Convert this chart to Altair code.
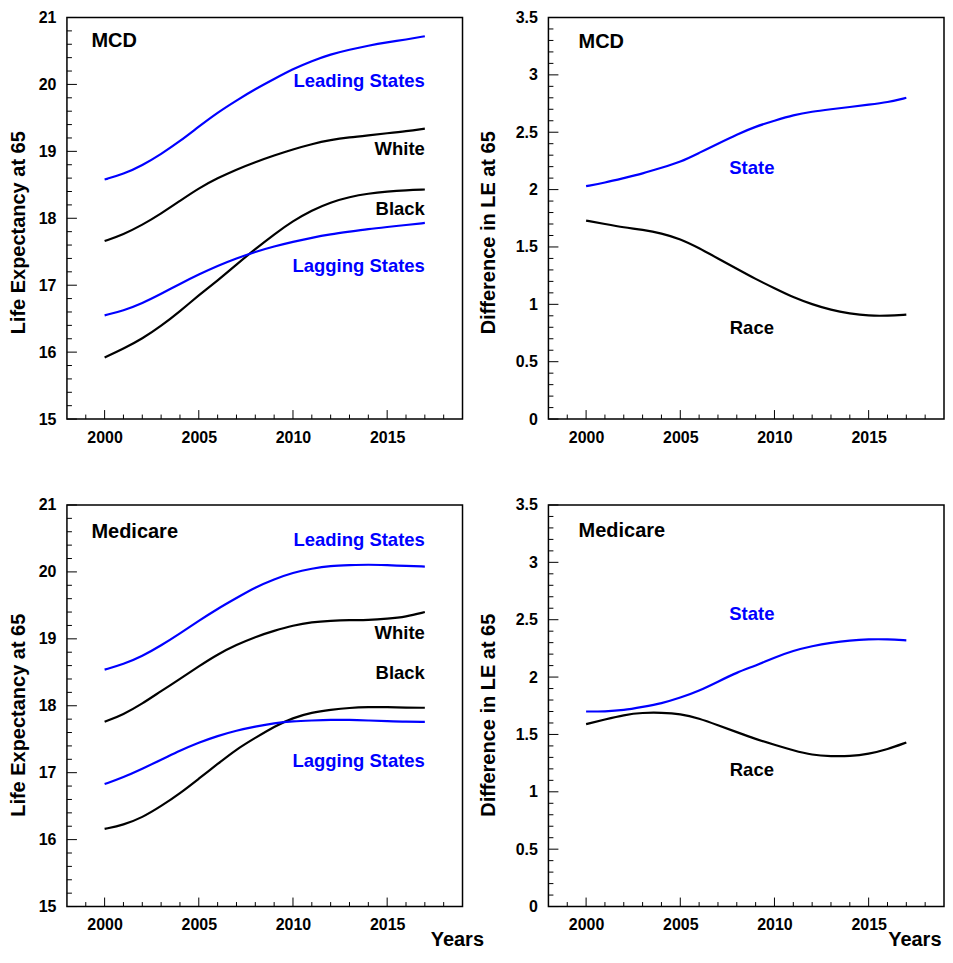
import altair as alt
import pandas as pd

years = list(range(2000, 2018))

# MCD life expectancy at 65
mcd_leading = [18.58, 18.66, 18.79, 18.96, 19.15, 19.37, 19.58, 19.76, 19.93, 20.08, 20.23, 20.35, 20.45, 20.52, 20.58, 20.63, 20.67, 20.72]
mcd_white = [17.66, 17.76, 17.90, 18.07, 18.26, 18.45, 18.60, 18.73, 18.84, 18.94, 19.03, 19.11, 19.17, 19.21, 19.24, 19.27, 19.30, 19.34]
mcd_black = [15.92, 16.05, 16.20, 16.39, 16.61, 16.85, 17.07, 17.31, 17.54, 17.76, 17.96, 18.12, 18.24, 18.32, 18.37, 18.40, 18.42, 18.43]
mcd_lagging = [16.55, 16.62, 16.73, 16.87, 17.02, 17.16, 17.29, 17.40, 17.50, 17.58, 17.65, 17.71, 17.76, 17.80, 17.84, 17.87, 17.90, 17.93]

# Medicare life expectancy at 65
med_leading = [18.54, 18.62, 18.74, 18.90, 19.08, 19.27, 19.45, 19.61, 19.77, 19.89, 19.99, 20.05, 20.09, 20.10, 20.11, 20.10, 20.09, 20.08]
med_white = [17.76, 17.87, 18.03, 18.22, 18.40, 18.59, 18.77, 18.91, 19.03, 19.12, 19.20, 19.25, 19.27, 19.28, 19.28, 19.30, 19.33, 19.40]
med_black = [16.16, 16.22, 16.33, 16.50, 16.69, 16.91, 17.13, 17.35, 17.52, 17.69, 17.82, 17.90, 17.94, 17.97, 17.98, 17.98, 17.97, 17.97]
med_lagging = [16.83, 16.93, 17.06, 17.19, 17.33, 17.45, 17.55, 17.63, 17.69, 17.74, 17.77, 17.78, 17.79, 17.79, 17.78, 17.77, 17.76, 17.76]

# Differences in LE at 65
mcd_state = [2.03, 2.06, 2.10, 2.14, 2.19, 2.24, 2.32, 2.40, 2.48, 2.55, 2.60, 2.65, 2.68, 2.70, 2.72, 2.74, 2.76, 2.80]
mcd_race = [1.73, 1.70, 1.67, 1.65, 1.62, 1.57, 1.49, 1.40, 1.31, 1.22, 1.14, 1.06, 1.00, 0.95, 0.92, 0.90, 0.90, 0.91]
med_state = [1.70, 1.70, 1.71, 1.74, 1.77, 1.82, 1.88, 1.96, 2.04, 2.10, 2.17, 2.23, 2.27, 2.30, 2.32, 2.33, 2.33, 2.32]
med_race = [1.59, 1.63, 1.67, 1.69, 1.69, 1.68, 1.64, 1.58, 1.52, 1.46, 1.41, 1.36, 1.32, 1.31, 1.31, 1.33, 1.37, 1.43]

# In-plot labels
le_label_text = ["Leading States", "White", "Black", "Lagging States"]
le_label_color = ["blue", "black", "black", "blue"]
le_label_x = [2017, 2017, 2017, 2017]
mcd_le_label_y = [20.05, 19.03, 18.14, 17.29]
med_le_label_y = [20.48, 19.09, 18.49, 17.18]

diff_label_text = ["State", "Race"]
diff_label_color = ["blue", "black"]
diff_label_x = [2008.8, 2008.8]
mcd_diff_label_y = [2.19, 0.79]
med_diff_label_y = [2.55, 1.19]

# Axis ticks
x_major = [2000, 2005, 2010, 2015]
x_minor = [1999, 2001, 2002, 2003, 2004, 2006, 2007, 2008, 2009, 2011, 2012, 2013, 2014, 2016, 2017, 2018]
le_major = [15, 16, 17, 18, 19, 20, 21]
le_minor = [round(15 + 0.2 * i, 1) for i in range(31) if i % 5 != 0]
diff_major = [0, 0.5, 1, 1.5, 2, 2.5, 3, 3.5]
diff_minor = [round(0.1 * i, 1) for i in range(36) if i % 5 != 0]

BLUE = "#0000ff"
FONT = "Liberation Sans"
W, H = 396, 402
XDOM = [1998, 2019]


def colr(c):
    return BLUE if c == "blue" else "black"


def panel(series, lab_text, lab_color, lab_x, lab_y, lab_align, ydom, ymaj, ymin, yfmt,
          ytitle, ytitle_x, ytitle_y, tag, tag_x, tag_y, years_x=None):
    xs = alt.Scale(domain=XDOM, nice=False, zero=False)
    ys = alt.Scale(domain=ydom, nice=False, zero=False)

    rows = []
    for name, c, vals in series:
        for yr, v in zip(years, vals):
            rows.append({"year": yr, "value": v, "series": name, "color": colr(c)})
    df = pd.DataFrame(rows)

    xaxis_kw = dict(values=x_major, format="d", ticks=False, domain=False, grid=False,
                    labelFont=FONT, labelFontWeight="bold", labelFontSize=16,
                    labelColor="black", labelPadding=10, labelFlush=False)
    if years_x is None:
        xaxis = alt.Axis(title=None, **xaxis_kw)
    else:
        xaxis = alt.Axis(title="Years", titleFont=FONT, titleFontWeight="bold",
                         titleFontSize=20, titleColor="black", titleX=years_x, titleY=33,
                         titleAlign="right", titleBaseline="middle", **xaxis_kw)
    yaxis = alt.Axis(values=ymaj, format=yfmt, ticks=False, domain=False, grid=False,
                     labelFont=FONT, labelFontWeight="bold", labelFontSize=16,
                     labelColor="black", labelPadding=11, labelFlush=False,
                     title=ytitle, titleFont=FONT, titleFontWeight="bold", titleFontSize=20,
                     titleColor="black", titleX=ytitle_x, titleY=ytitle_y,
                     titleAlign="center", titleBaseline="bottom", titleAngle=270)

    def X(field):
        return alt.X(field, type="quantitative", scale=xs, axis=xaxis)

    def Y(field):
        return alt.Y(field, type="quantitative", scale=ys, axis=yaxis)

    lines = alt.Chart(df).mark_line(strokeWidth=2.2, interpolate="basis").encode(
        x=X("year"),
        y=Y("value"),
        color=alt.Color("color:N", scale=None),
        detail="series:N",
    )

    ldf = pd.DataFrame({"x": lab_x, "y": lab_y, "text": lab_text,
                        "color": [colr(c) for c in lab_color]})
    labels = alt.Chart(ldf).mark_text(align=lab_align, baseline="middle", font=FONT,
                                      fontWeight="bold", fontSize=18.5).encode(
        x=X("x"), y=Y("y"),
        text="text:N",
        color=alt.Color("color:N", scale=None),
    )

    tdf = pd.DataFrame({"x": [tag_x], "y": [tag_y], "text": [tag]})
    tagm = alt.Chart(tdf).mark_text(align="left", baseline="middle", font=FONT,
                                    fontWeight="bold", fontSize=20, color="black").encode(
        x=X("x"), y=Y("y"), text="text:N",
    )

    xmaj = alt.Chart(pd.DataFrame({"v": x_major})).mark_rule(color="black", strokeWidth=1).encode(
        x=X("v"), y=alt.value(H), y2=alt.value(H - 9))
    xmin = alt.Chart(pd.DataFrame({"v": x_minor})).mark_rule(color="black", strokeWidth=1).encode(
        x=X("v"), y=alt.value(H), y2=alt.value(H - 4.5))
    ymj = alt.Chart(pd.DataFrame({"v": ymaj})).mark_rule(color="black", strokeWidth=1).encode(
        y=Y("v"), x=alt.value(0), x2=alt.value(10))
    ymn = alt.Chart(pd.DataFrame({"v": ymin})).mark_rule(color="black", strokeWidth=1).encode(
        y=Y("v"), x=alt.value(0), x2=alt.value(5))

    return alt.layer(lines, xmaj, xmin, ymj, ymn, labels, tagm).properties(width=W, height=H)


tl = panel([("Leading", "blue", mcd_leading), ("White", "black", mcd_white),
            ("Black", "black", mcd_black), ("Lagging", "blue", mcd_lagging)],
           le_label_text, le_label_color, le_label_x, mcd_le_label_y, "right",
           [15, 21], le_major, le_minor, "d", "Life Expectancy at 65", -38, 215,
           "MCD", 1999.3, 20.65)
tr = panel([("State", "blue", mcd_state), ("Race", "black", mcd_race)],
           diff_label_text, diff_label_color, diff_label_x, mcd_diff_label_y, "center",
           [0, 3.5], diff_major, diff_minor, "~g", "Difference in LE at 65", -50, 215,
           "MCD", 1999.6, 3.29)
bl = panel([("Leading", "blue", med_leading), ("White", "black", med_white),
            ("Black", "black", med_black), ("Lagging", "blue", med_lagging)],
           le_label_text, le_label_color, le_label_x, med_le_label_y, "right",
           [15, 21], le_major, le_minor, "d", "Life Expectancy at 65", -38, 210,
           "Medicare", 1999.3, 20.59, years_x=W + 21)
br = panel([("State", "blue", med_state), ("Race", "black", med_race)],
           diff_label_text, diff_label_color, diff_label_x, med_diff_label_y, "center",
           [0, 3.5], diff_major, diff_minor, "~g", "Difference in LE at 65", -50, 210,
           "Medicare", 1999.6, 3.27, years_x=W - 3)

chart = alt.concat(tl, tr, bl, br, columns=2, spacing=86, bounds="flush").properties(
    padding={"left": 0, "top": 0, "right": 0, "bottom": 0},
    background="white",
).configure_view(stroke="black", strokeWidth=1.5)

chart.save("out.html", embed_options={"renderer": "svg", "actions": False})
